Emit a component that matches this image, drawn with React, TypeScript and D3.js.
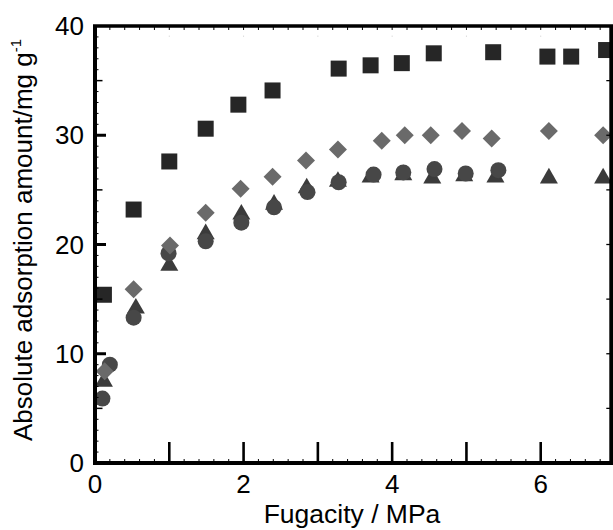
import React from "react";
import * as d3 from "d3";

const squareX = [0.12, 0.52, 1.0, 1.49, 1.93, 2.39, 3.28, 3.71, 4.13, 4.56, 5.36, 6.09, 6.41, 6.88];
const squareY = [15.4, 23.2, 27.6, 30.6, 32.8, 34.1, 36.1, 36.4, 36.6, 37.5, 37.6, 37.2, 37.2, 37.8];

const diamondX = [0.13, 0.52, 1.01, 1.49, 1.96, 2.39, 2.84, 3.27, 3.86, 4.17, 4.52, 4.94, 5.34, 6.11, 6.84];
const diamondY = [8.4, 15.9, 19.9, 22.9, 25.1, 26.2, 27.7, 28.7, 29.5, 30.0, 30.0, 30.4, 29.7, 30.4, 30.0];

const triangleX = [0.12, 0.55, 1.0, 1.49, 1.97, 2.41, 2.85, 3.27, 3.71, 4.15, 4.54, 4.97, 5.39, 6.11, 6.84];
const triangleY = [7.7, 14.4, 18.3, 21.2, 23.0, 23.9, 25.4, 26.0, 26.4, 26.6, 26.3, 26.5, 26.4, 26.3, 26.3];

const circleX = [0.1, 0.2, 0.52, 0.99, 1.49, 1.97, 2.41, 2.86, 3.28, 3.75, 4.15, 4.57, 4.99, 5.43];
const circleY = [5.9, 9.0, 13.3, 19.2, 20.3, 22.0, 23.4, 24.8, 25.7, 26.4, 26.6, 26.9, 26.5, 26.8];

const xTickLabels = [0, 2, 4, 6];
const yTickLabels = [0, 10, 20, 30, 40];
const xTitle = "Fugacity / MPa";
const yTitle = "Absolute adsorption amount/mg g";
const yTitleSup = "-1";

const W = 613;
const H = 530;
const FONT = "'Liberation Sans', Arial, sans-serif";

export default function App() {
  const x = d3.scaleLinear().domain([0, 6.95]).range([95, 611.3]);
  const y = d3.scaleLinear().domain([0, 40]).range([463, 26]);
  const x0 = x(0), x1 = x(6.95), y0 = y(0), y1 = y(40);

  const xMinor = d3.range(0, 35).map((i) => i * 0.2).filter((v) => v > 0 && v < 6.95);
  const xMajor = [1, 2, 3, 4, 5, 6];
  const yMinor = d3.range(1, 40);

  const sq = 16;
  const diamondR = 9;
  const triW = 18, triH = 15.6;
  const circR = 8;

  const squares = squareX.map((v, i) => [x(v), y(squareY[i])]);
  const diamonds = diamondX.map((v, i) => [x(v), y(diamondY[i])]);
  const triangles = triangleX.map((v, i) => [x(v), y(triangleY[i])]);
  const circles = circleX.map((v, i) => [x(v), y(circleY[i])]);

  return (
    <svg width={W} height={H} style={{ position: "absolute", left: 0, top: 0, background: "#fff" }} fontFamily={FONT}>
      <rect x={0} y={0} width={W} height={H} fill="#fff" />
      <defs>
        <clipPath id="plot">
          <rect x={x0} y={y1} width={x1 - x0} height={y0 - y1} />
        </clipPath>
      </defs>
      {/* markers */}
      <g clipPath="url(#plot)">
        {squares.map(([cx, cy], i) => (
          <rect key={"s" + i} x={cx - sq / 2} y={cy - sq / 2} width={sq} height={sq} fill="#262626" />
        ))}
        {triangles.map(([cx, cy], i) => (
          <path
            key={"t" + i}
            d={`M${cx},${cy - triH / 2} L${cx + triW / 2},${cy + triH / 2} L${cx - triW / 2},${cy + triH / 2} Z`}
            fill="#3b3b3b"
          />
        ))}
        {circles.map(([cx, cy], i) => (
          <circle key={"c" + i} cx={cx} cy={cy} r={circR} fill="#474747" />
        ))}
        {diamonds.map(([cx, cy], i) => (
          <path
            key={"d" + i}
            d={`M${cx},${cy - diamondR} L${cx + diamondR},${cy} L${cx},${cy + diamondR} L${cx - diamondR},${cy} Z`}
            fill="#6a6a6a"
          />
        ))}
      </g>
      {/* bottom ticks */}
      {xMinor.map((v, i) => (
        <line key={"bm" + i} x1={x(v)} x2={x(v)} y1={y0} y2={y0 - 4} stroke="#000" strokeWidth={1} />
      ))}
      {xMajor.map((v, i) => (
        <line key={"bM" + i} x1={x(v)} x2={x(v)} y1={y0} y2={y0 - 21} stroke="#000" strokeWidth={2.6} />
      ))}
      {/* top ticks */}
      {xMinor.map((v, i) => (
        <line key={"tm" + i} x1={x(v)} x2={x(v)} y1={y1} y2={y1 + 4} stroke="#000" strokeWidth={1} />
      ))}
      {xMajor.map((v, i) => (
        <line key={"tf" + i} x1={x(v)} x2={x(v)} y1={y1 + 9.5} y2={y1 + 11} stroke="#ddd" strokeWidth={1} />
      ))}
      {/* left ticks */}
      {yMinor.map((v, i) => {
        const len = v % 10 === 0 ? 11 : v % 5 === 0 ? 7.5 : 3.5;
        const sw = v % 10 === 0 ? 3 : v % 5 === 0 ? 1.5 : 1;
        return <line key={"l" + i} x1={x0} x2={x0 + len} y1={y(v)} y2={y(v)} stroke="#000" strokeWidth={sw} />;
      })}
      {/* right ticks */}
      {[5, 10, 15, 20, 25, 30, 35].map((v, i) => (
        <line key={"r" + i} x1={x1} x2={x1 - 5} y1={y(v)} y2={y(v)} stroke="#000" strokeWidth={1.3} />
      ))}
      {/* frame */}
      <line x1={x0} x2={x1 + 2} y1={y0} y2={y0} stroke="#000" strokeWidth={4} />
      <line x1={x0 - 2} x2={x1 + 2} y1={y1} y2={y1} stroke="#000" strokeWidth={3.6} />
      <line x1={x0} x2={x0} y1={y1} y2={y0 + 2} stroke="#000" strokeWidth={4} />
      <line x1={x1} x2={x1} y1={y1} y2={y0 + 2} stroke="#000" strokeWidth={4} />
      {/* tick labels */}
      {xTickLabels.map((v) => (
        <text key={"xl" + v} x={x(v)} y={493} textAnchor="middle" fontSize={26} fill="#000">
          {v}
        </text>
      ))}
      {yTickLabels.map((v) => (
        <text key={"yl" + v} x={84} y={y(v)} dy="0.35em" textAnchor="end" fontSize={26} fill="#000">
          {v}
        </text>
      ))}
      {/* titles */}
      <text x={352} y={523} textAnchor="middle" fontSize={26.5} fill="#000">
        {xTitle}
      </text>
      <text transform={`translate(32,240) rotate(-90)`} textAnchor="middle" fontSize={26} fill="#000">
        {yTitle}
        <tspan dy={-11} fontSize={15}>{yTitleSup}</tspan>
      </text>
    </svg>
  );
}
